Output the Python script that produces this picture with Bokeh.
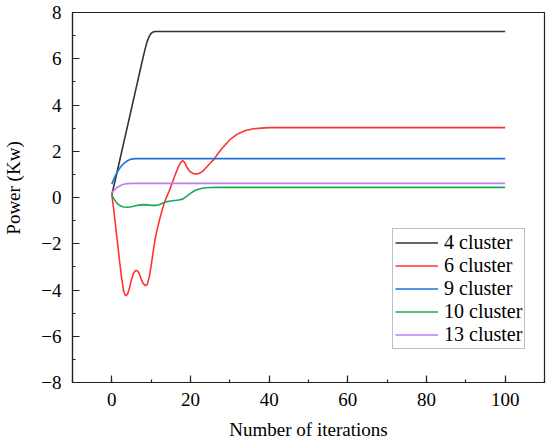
from bokeh.plotting import figure
from bokeh.models import Range1d, SingleIntervalTicker, Legend, LegendItem
from bokeh.embed import file_html
from bokeh.resources import INLINE

# ---- data ----
x_black = [0, 1, 2, 3, 4, 5, 6, 7, 8, 8.5, 9, 9.5, 10, 10.5, 11, 12, 100]
y_black = [0.12, 0.85, 1.6, 2.35, 3.1, 3.85, 4.6, 5.35, 6.1, 6.45, 6.75, 6.97, 7.1, 7.16, 7.18, 7.18, 7.18]

x_red = [0, 0.5, 1, 1.5, 2, 2.5, 3, 3.5, 4, 4.5, 5, 5.5, 6, 6.5, 7, 7.5, 8, 8.5, 9, 9.5,
         10, 10.5, 11, 11.5, 12, 12.5, 13, 13.5, 14, 14.5, 15, 15.5, 16, 16.5, 17, 17.5,
         18, 18.5, 19, 19.5, 20, 21, 22, 23, 24, 25, 26, 27, 28, 30, 32, 34, 36, 38, 40, 100]
y_red = [0.12, -0.55, -1.3, -2.05, -2.8, -3.5, -4.05, -4.25, -4.18, -3.9, -3.55, -3.28, -3.16, -3.17,
         -3.3, -3.55, -3.72, -3.81, -3.76, -3.45, -2.95, -2.35, -1.8, -1.4, -1.05, -0.72, -0.42,
         -0.15, 0.05, 0.25, 0.47, 0.7, 0.93, 1.15, 1.35, 1.52, 1.59, 1.52, 1.35, 1.2, 1.1, 1.02,
         1.03, 1.12, 1.3, 1.48, 1.66, 1.9, 2.12, 2.5, 2.75, 2.9, 2.97, 3.0, 3.02, 3.02]

x_blue = [0, 0.5, 1, 1.5, 2, 2.5, 3, 3.5, 4, 4.5, 5, 6, 100]
y_blue = [0.58, 0.8, 0.98, 1.13, 1.26, 1.37, 1.46, 1.53, 1.59, 1.63, 1.66, 1.68, 1.68]

x_green = [0, 0.5, 1, 1.5, 2, 3, 4, 5, 6, 7, 8, 9, 10, 11, 12, 13, 14, 15, 16, 17, 18, 19,
           20, 21, 22, 23, 24, 25, 27, 100]
y_green = [0.1, -0.05, -0.18, -0.28, -0.35, -0.41, -0.42, -0.4, -0.36, -0.33, -0.31, -0.32,
           -0.34, -0.34, -0.31, -0.24, -0.18, -0.15, -0.13, -0.11, -0.07, 0.05, 0.18, 0.29,
           0.36, 0.4, 0.42, 0.43, 0.44, 0.44]

x_violet = [0, 0.5, 1, 1.5, 2, 2.5, 3, 4, 5, 100]
y_violet = [0.2, 0.3, 0.38, 0.45, 0.5, 0.54, 0.57, 0.6, 0.61, 0.61]

labels = ["4 cluster", "6 cluster", "9 cluster", "10 cluster", "13 cluster"]
colors = ["#333333", "#ff3333", "#1f6fe0", "#1aa858", "#c07ef0"]

y_ticks = [-8, -6, -4, -2, 0, 2, 4, 6, 8]

FONT = "Liberation Serif"

p = figure(frame_width=472, frame_height=370, output_backend="svg", toolbar_location=None,
           x_range=Range1d(-10, 110), y_range=Range1d(-8, 8),
           min_border_left=63, min_border_top=12, min_border_right=5, min_border_bottom=50)
p.background_fill_color = "white"
p.border_fill_color = "white"
p.outline_line_color = "#222222"
p.outline_line_width = 1.2
p.xgrid.visible = False
p.ygrid.visible = False

series = [(x_black, y_black), (x_red, y_red), (x_blue, y_blue), (x_green, y_green), (x_violet, y_violet)]
items = []
for (xs, ys), lab, col in zip(series, labels, colors):
    r = p.line(xs, ys, line_color=col, line_width=1.6)
    items.append(LegendItem(label=lab, renderers=[r]))

p.xaxis.ticker = SingleIntervalTicker(interval=20, num_minor_ticks=2)
p.yaxis.ticker = SingleIntervalTicker(interval=2, num_minor_ticks=2)
p.yaxis.major_label_overrides = {v: (("\u2212" + str(abs(v))) if v < 0 else str(v)) for v in y_ticks}

for ax in (p.xaxis[0], p.yaxis[0]):
    ax.axis_line_color = "#222222"
    ax.axis_line_width = 1.2
    ax.major_tick_line_color = "#222222"
    ax.minor_tick_line_color = "#222222"
    ax.major_tick_line_width = 1.2
    ax.minor_tick_line_width = 1.2
    ax.major_tick_in = 7
    ax.major_tick_out = 0
    ax.minor_tick_in = 3
    ax.minor_tick_out = 0
    ax.major_label_text_font = FONT
    ax.major_label_text_font_size = "19px"
    ax.major_label_text_color = "black"
    ax.axis_label_text_font = FONT
    ax.axis_label_text_font_size = "19px"
    ax.axis_label_text_font_style = "normal"
    ax.axis_label_text_color = "black"

p.xaxis.axis_label = "Number of iterations"
# leading no-break spaces lift the visible label slightly, as in the reference
p.yaxis.axis_label = "\u00a0\u00a0\u00a0\u00a0Power (Kw)"
p.xaxis.major_label_standoff = 10
p.yaxis.major_label_standoff = 11
p.xaxis.axis_label_standoff = 10
p.yaxis.axis_label_standoff = 14

legend = Legend(items=items, location=(320, 33))
legend.label_text_font = FONT
legend.label_text_font_size = "20px"
legend.label_text_color = "black"
legend.border_line_color = "#808080"
legend.border_line_width = 1.2
legend.background_fill_alpha = 1.0
legend.padding = 2
legend.spacing = 0
legend.margin = 0
legend.glyph_width = 43
legend.glyph_height = 23
legend.label_height = 23
legend.label_standoff = 6
p.add_layout(legend)

open("out.html", "w").write(file_html(p, INLINE))
